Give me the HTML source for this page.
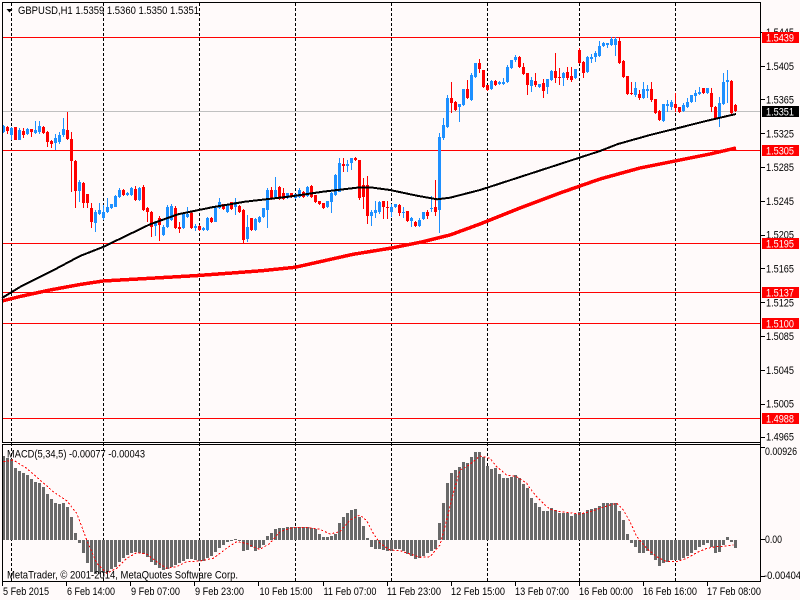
<!DOCTYPE html>
<html><head><meta charset="utf-8"><style>
html,body{margin:0;padding:0;background:#FFFAFA;width:800px;height:600px;overflow:hidden}
svg{display:block}
text{font-family:"Liberation Sans",sans-serif;font-size:11px;fill:#000}
</style></head><body>
<svg id="s" width="800" height="600" xmlns="http://www.w3.org/2000/svg" shape-rendering="crispEdges">
<rect width="800" height="600" fill="#FFFAFA"/>
<g stroke="#000" stroke-width="1" stroke-dasharray="3,2">
<line x1="11.5" y1="3" x2="11.5" y2="581"/>
<line x1="103.5" y1="3" x2="103.5" y2="581"/>
<line x1="199.5" y1="3" x2="199.5" y2="581"/>
<line x1="295.5" y1="3" x2="295.5" y2="581"/>
<line x1="391.5" y1="3" x2="391.5" y2="581"/>
<line x1="487.5" y1="3" x2="487.5" y2="581"/>
<line x1="579.5" y1="3" x2="579.5" y2="581"/>
<line x1="675.5" y1="3" x2="675.5" y2="581"/>
</g>
<g stroke="#FF0000" stroke-width="1">
<line x1="3" y1="37.5" x2="760" y2="37.5"/>
<line x1="3" y1="150.5" x2="760" y2="150.5"/>
<line x1="3" y1="243.5" x2="760" y2="243.5"/>
<line x1="3" y1="292.5" x2="760" y2="292.5"/>
<line x1="3" y1="323.5" x2="760" y2="323.5"/>
<line x1="3" y1="418.5" x2="760" y2="418.5"/>
</g>
<line x1="3" y1="111.5" x2="760" y2="111.5" stroke="#C0C0C0"/>
<g id="cd"></g>
<g id="hg" fill="#696969"></g>
<polyline fill="none" stroke="#000" stroke-width="2" points="2,298 20,287 50,272 80,256 103,247 150,224.3 178,214.3 212,207.3 245,201.7 290,196.5 323,191.7 357,187.7 373,187.7 390,190 417,195.7 437,199.3 450,197.7 480,190 520,177 560,164 600,151 618,144 650,135 677,128.3 706,121 736,114"/>
<polyline fill="none" stroke="#FF0000" stroke-width="3.5" points="2,301 20,296.5 50,290 80,284.5 103,281 150,278.3 195,275.7 228,273.3 262,270.7 295,267.3 353,254.3 390,248.3 423,241.7 450,235 480,224 520,208 560,193 600,179 640,168 680,160 710,154 736,148"/>
<polyline fill="none" stroke="#FF0000" stroke-width="1" stroke-dasharray="2,2" points="3.3,461.7 13.3,460 26.7,468.3 40,480 53.3,491.7 66.7,500.7 76.7,513.3 86.7,540 96.7,563.3 106.7,573.3 116.7,568.3 126.7,558.3 136.7,552.7 146.7,554 156.7,561.7 166.7,568.3 176.7,566.7 186.7,561.7 200,561 213.3,558.3 226.7,548.3 236.7,541.7 246.7,543.3 256.7,548.3 260,549.3 270,543.3 280,531.7 293.3,527.3 306.7,527.3 320,529.3 330,534 340,531.7 350,520 360,515 366.7,520.7 373.3,533.3 380,543.3 390,550 400,550.7 410,554 420,557.3 430,556.7 440,545 446.7,520 453.3,493.3 460,470 466.7,466.7 473.3,461.7 480,456 490,458.3 496.7,466.7 506.7,475 516.7,476.7 526.7,483.3 530,488.3 536.7,496.7 543.3,503.3 550,509.3 560,511.7 570,512.7 580,514 590,511.7 600,508.3 610,505 616.7,503.3 623.3,510 630,521.7 636.7,536.7 646.7,548.3 656.7,556.7 666.7,561.7 676.7,561.7 686.7,558.3 696.7,552.7 706.7,548.3 716.7,546.7 726.7,546 733.3,545"/>
<g fill="#000">
<rect x="2" y="2" width="759" height="1"/>
<rect x="2" y="2" width="1" height="441"/>
<rect x="2" y="442" width="759" height="1"/>
<rect x="2" y="444" width="759" height="1"/>
<rect x="2" y="444" width="1" height="138"/>
<rect x="2" y="581" width="759" height="1"/>
<rect x="760" y="2" width="1" height="580"/>
<rect x="761" y="32" width="4" height="1"/>
<rect x="761" y="66" width="4" height="1"/>
<rect x="761" y="99" width="4" height="1"/>
<rect x="761" y="133" width="4" height="1"/>
<rect x="761" y="167" width="4" height="1"/>
<rect x="761" y="201" width="4" height="1"/>
<rect x="761" y="235" width="4" height="1"/>
<rect x="761" y="268" width="4" height="1"/>
<rect x="761" y="302" width="4" height="1"/>
<rect x="761" y="336" width="4" height="1"/>
<rect x="761" y="370" width="4" height="1"/>
<rect x="761" y="404" width="4" height="1"/>
<rect x="761" y="437" width="4" height="1"/>
<rect x="761" y="447" width="4" height="1"/>
<rect x="761" y="539" width="4" height="1"/>
<rect x="761" y="576" width="4" height="1"/>
<rect x="2" y="582" width="1" height="4"/>
<rect x="66" y="582" width="1" height="4"/>
<rect x="130" y="582" width="1" height="4"/>
<rect x="194" y="582" width="1" height="4"/>
<rect x="258" y="582" width="1" height="4"/>
<rect x="323" y="582" width="1" height="4"/>
<rect x="387" y="582" width="1" height="4"/>
<rect x="451" y="582" width="1" height="4"/>
<rect x="515" y="582" width="1" height="4"/>
<rect x="579" y="582" width="1" height="4"/>
<rect x="643" y="582" width="1" height="4"/>
<rect x="707" y="582" width="1" height="4"/>
</g>
<text x="766" y="36" textLength="28" lengthAdjust="spacingAndGlyphs">1.5445</text>
<text x="766" y="70" textLength="28" lengthAdjust="spacingAndGlyphs">1.5405</text>
<text x="766" y="103.5" textLength="28" lengthAdjust="spacingAndGlyphs">1.5365</text>
<text x="766" y="137.3" textLength="28" lengthAdjust="spacingAndGlyphs">1.5325</text>
<text x="766" y="171" textLength="28" lengthAdjust="spacingAndGlyphs">1.5285</text>
<text x="766" y="205" textLength="28" lengthAdjust="spacingAndGlyphs">1.5245</text>
<text x="766" y="238.7" textLength="28" lengthAdjust="spacingAndGlyphs">1.5205</text>
<text x="766" y="272.5" textLength="28" lengthAdjust="spacingAndGlyphs">1.5165</text>
<text x="766" y="306.3" textLength="28" lengthAdjust="spacingAndGlyphs">1.5125</text>
<text x="766" y="340" textLength="28" lengthAdjust="spacingAndGlyphs">1.5085</text>
<text x="766" y="374" textLength="28" lengthAdjust="spacingAndGlyphs">1.5045</text>
<text x="766" y="407.7" textLength="28" lengthAdjust="spacingAndGlyphs">1.5005</text>
<text x="766" y="440.5" textLength="28" lengthAdjust="spacingAndGlyphs">1.4965</text>
<text x="765" y="455" textLength="32" lengthAdjust="spacingAndGlyphs">0.00926</text>
<text x="765" y="543" textLength="17" lengthAdjust="spacingAndGlyphs">0.00</text>
<text x="764" y="579" textLength="37" lengthAdjust="spacingAndGlyphs">-0.00404</text>
<g fill="#FF0000">
<rect x="762" y="32" width="37" height="11"/>
<rect x="762" y="145" width="37" height="11"/>
<rect x="762" y="238" width="37" height="11"/>
<rect x="762" y="287" width="37" height="11"/>
<rect x="762" y="318" width="37" height="11"/>
<rect x="762" y="413" width="37" height="11"/>
</g>
<rect x="762" y="106" width="37" height="11" fill="#000"/>
<g>
<text x="766" y="41.5" textLength="28" lengthAdjust="spacingAndGlyphs" style="fill:#fff">1.5439</text>
<text x="766" y="154.5" textLength="28" lengthAdjust="spacingAndGlyphs" style="fill:#fff">1.5305</text>
<text x="766" y="247.5" textLength="28" lengthAdjust="spacingAndGlyphs" style="fill:#fff">1.5195</text>
<text x="766" y="296.5" textLength="28" lengthAdjust="spacingAndGlyphs" style="fill:#fff">1.5137</text>
<text x="766" y="327.5" textLength="28" lengthAdjust="spacingAndGlyphs" style="fill:#fff">1.5100</text>
<text x="766" y="422.5" textLength="28" lengthAdjust="spacingAndGlyphs" style="fill:#fff">1.4988</text>
<text x="766" y="115.5" textLength="28" lengthAdjust="spacingAndGlyphs" style="fill:#fff">1.5351</text>
</g>
<polygon points="6.5,9 12.5,9 9.5,12.5" fill="#000" shape-rendering="auto"/>
<text x="18" y="14" textLength="181" lengthAdjust="spacingAndGlyphs">GBPUSD,H1  1.5359 1.5360 1.5350 1.5351</text>
<text x="7" y="457.5" textLength="138" lengthAdjust="spacingAndGlyphs">MACD(5,34,5) -0.00077 -0.00043</text>
<text x="7" y="578.5" textLength="231" lengthAdjust="spacingAndGlyphs">MetaTrader, © 2001-2014, MetaQuotes Software Corp.</text>
<text x="3" y="595" textLength="46" lengthAdjust="spacingAndGlyphs">5 Feb 2015</text>
<text x="67" y="595" textLength="48" lengthAdjust="spacingAndGlyphs">6 Feb 14:00</text>
<text x="131" y="595" textLength="49" lengthAdjust="spacingAndGlyphs">9 Feb 07:00</text>
<text x="195" y="595" textLength="49" lengthAdjust="spacingAndGlyphs">9 Feb 23:00</text>
<text x="259.5" y="595" textLength="53" lengthAdjust="spacingAndGlyphs">10 Feb 15:00</text>
<text x="323.5" y="595" textLength="53" lengthAdjust="spacingAndGlyphs">11 Feb 07:00</text>
<text x="387" y="595" textLength="54" lengthAdjust="spacingAndGlyphs">11 Feb 23:00</text>
<text x="451" y="595" textLength="54" lengthAdjust="spacingAndGlyphs">12 Feb 15:00</text>
<text x="515" y="595" textLength="54" lengthAdjust="spacingAndGlyphs">13 Feb 07:00</text>
<text x="579" y="595" textLength="54" lengthAdjust="spacingAndGlyphs">16 Feb 00:00</text>
<text x="643" y="595" textLength="54" lengthAdjust="spacingAndGlyphs">16 Feb 16:00</text>
<text x="707" y="595" textLength="54" lengthAdjust="spacingAndGlyphs">17 Feb 08:00</text>
</svg>
<script>
(function(){
var NS="http://www.w3.org/2000/svg";
var C=[
['b',125.7,132.3,125,133.3],['r',126.7,131,126,134.3],['b',127.7,135,127,140],['r',126.7,140,126.7,140],['b',130,140,127.7,140],
['r',131,135,128.3,137.7],['b',129,134.3,128,135],['r',129,132.3,129,136.7],['b',130,133.3,121,134.3],['b',125.7,131.7,121,134.3],
['r',126.7,133.3,126,134],['r',132.3,142.3,131,146.7],['r',141,144.3,140,147.7],['b',138.3,143.3,134.3,150],['b',135,141.7,131.7,144.3],
['b',129,135,118.3,136.7],['r',130,139,112.3,140],['r',139,161,131.7,192.3],['r',161,191,160,208.3],['b',181.7,191,180,201.7],
['r',183.3,203.3,182,208.3],['r',194.3,203.3,194,208.3],['r',208.3,222.3,203.3,227.7],['b',212.3,223.3,210,231.7],['b',210,214.3,202.7,215],
['b',211.7,218.3,205,220],['b',206.7,211.7,197.7,213.3],['b',204.3,208.3,204,209],['b',195.7,206.7,195,207],['b',190,196.7,187.7,197.7],
['r',190,195,189,196],['b',193.3,195,192,196],['b',188.3,195,186.7,195.7],['r',189,200,185.7,201],['b',187.7,200,187,201],
['r',186.7,210,185,211],['r',207.7,212.3,206.7,222.3],['r',212.3,226.7,211,236.7],['b',222.3,225.7,221,235.7],['r',217.7,225,216,241],
['b',226.7,235,225,236],['b',206.7,226.7,205,228],['b',205.7,220,204,221],['r',207.7,228.3,206,229],['r',226.7,229,222.3,233.3],
['b',213.3,227.7,212,229],['b',214.3,216.7,206.7,217.7],['r',213.3,227.7,212,229],['b',225.7,228.3,224.3,231],['r',225.7,230,225,231],
['b',227.7,230,227,231],['b',217.7,230,217,231],['r',217.7,222.3,217,223],['b',207.7,221.7,207,222],['b',202.3,208.3,198.3,209],
['r',204.3,209,203.5,210],['b',205,211.7,204,212.5],['r',202.3,209,201.5,210],['b',201.7,206.7,197.7,215],['r',205.7,211.7,205,212.5],
['r',210,240,209,244.3],['b',226.7,239,215,241.7],['r',218.3,230,217.5,231],['b',219,230,218,231],['b',216.7,221.7,216,222.5],
['b',208.3,216.7,207.5,217.5],['b',190,210,188.3,228.3],['r',190,197.7,186.7,200],['b',190,196.7,176.7,198.3],['r',186.7,199,186,200],
['r',193.3,199,188.3,200],['b',193.3,198.3,192.5,199],['r',193.3,196.7,192.5,197.5],['b',194.3,197.7,193.5,198.5],['b',190,196.7,187.7,197.7],
['r',191.7,196.7,191,197.5],['b',186.7,195.7,186,196.5],['r',185.7,196.7,185,197.5],['r',195,201.7,194.5,202.5],['r',201,204.3,200.5,205],
['r',203.3,207.7,202.5,208.5],['b',201,206.7,200.5,207.5],['b',193.3,202.3,192.3,213.3],['b',175,195,174.3,195.7],['b',163.3,191.7,157.7,191.7],
['r',164.3,165.7,157.7,171.7],['b',164.3,165.7,160,172.3],['b',158.3,163.3,157.7,170],['r',158.3,160,157,161],['r',160,198.3,159.5,200],
['r',185,196.7,178.3,209],['r',185,215.7,175.7,224.3],['b',211.7,215.7,210,225.7],['b',210,213.3,201,217.7],['b',201.7,211.7,201,214.3],
['r',201,206.7,200.5,219],['r',206.7,208.3,201,219],['b',206.7,211.7,204.3,216.7],['b',204.3,206.7,203.5,207.5],['r',205,213.3,204.3,215.7],
['b',211.7,213.3,206.7,217.7],['r',211,221,210.5,222.3],['b',217.7,221,216.7,226.7],['r',221.7,225.7,221,226.5],['b',220,225.7,218.3,226.5],
['b',212.3,219,211.5,220],['r',211.7,215.7,210,219],['b',208.3,209,195.7,211.7],['r',206.7,211.7,180,215.7],['b',137.3,210,133,233.3],
['b',125,138.3,118.3,140],['b',98.3,126.7,95,127.5],['r',98.3,103.3,81.7,113.3],['r',101.7,110,101,111],['b',104,106.7,104,121.7],
['b',89.3,105,88.5,106],['r',89.3,98.3,80,99],['b',75,100,72.7,101],['b',63.3,76.7,62.7,78.3],['r',63.3,69.3,59.3,73.3],
['r',70,86.7,69.5,87.5],['r',85,90,84.5,91],['b',80.7,89.3,80,90],['r',80.7,85,80,86],['b',81.7,84,81,85],
['b',81.7,84,78.3,85],['b',66.7,81.7,65,82.5],['b',60,68.3,59.5,69],['b',56.7,60,55,61.7],['r',56.7,67.3,56,68],
['r',66.7,74,63.3,75],['r',73.3,85,72.5,95],['b',80,86,76.7,91.7],['r',80.7,85,72.7,86.7],['b',84,86.7,83.5,87.5],
['r',82.7,90.7,79.3,98.3],['b',79.3,87.3,78.5,94],['b',70.7,80,70,81],['r',70.7,78.3,52.7,83.3],['r',76.7,78.3,68.3,85],
['b',72.7,78.3,72,86],['r',71.7,78.3,67.3,80],['r',76,80,67.3,81.7],['b',69.3,78.3,68.5,79],['r',50,63.3,48.3,64],
['r',61.7,73.3,61,78.3],['b',56.7,71.7,56,72.5],['b',57.3,59.3,54,62.7],['b',53.3,57.3,50.7,61.7],['b',46,56,40.7,57],
['b',42.7,46,41.7,47.3],['b',43.3,45,42.7,48.3],['b',39.3,45,37.3,46],['b',39.3,45,37.3,56],['r',40.7,62.7,38.3,63.5],
['r',60.7,76.7,60,78.3],['r',76,94,75.5,95],['r',92.7,94,81.7,95],['b',88.3,95,81.7,96.7],['r',94,98.3,90,100],
['b',89.3,98.3,81.7,99],['b',89.3,90.7,85,98.3],['r',89.3,100,81.7,101.7],['r',99.3,112.7,99,113.5],['r',110.7,120,110,121],
['b',104,120.7,103.5,121.5],['b',104,106,100,111.7],['b',101.7,107.3,100,110],['r',104,108.3,93.3,111.7],['r',107.3,111.7,107,112.5],
['b',105,110.7,103.3,111.5],['b',101.7,107.3,98.3,108],['b',95,101.7,94.5,102.5],['b',92.7,96,90,101.7],['b',91.7,94,87.3,95],
['r',88.3,93.3,88,94],['b',88.3,93.3,88,94],['r',93.3,106.7,88.3,111.7],['r',106.7,118.3,106,120],['b',102.7,118.3,96.7,127.3],
['b',81.7,104,72.7,105],['b',80,81.7,70,102.7],['r',80.7,112.7,80,113.5],['r',104.6,111.3,103.8,112.2]
];
var H=[78,85,88,115,122,128,135,148,155,160,172,192,208,218,222,218,232,262,308,338,370,400,425,432,432,430,425,418,410,395,385,375,368,365,368,372,382,395,405,415,420,418,410,405,400,392,388,388,390,392,392,385,378,365,355,345,335,332,328,332,362,360,350,362,355,345,
318,308,298,294,294,292,292,292,292,292,290,293,298,312,322,322,318,312,280,260,248,240,238,262,288,324,350,358,358,360,362,362,358,358,362,372,378,388,385,378,370,362,358,278,218,158,128,120,112,95,98,82,65,65,82,108,118,115,132,145,145,140,135,145,162,175,
205,218,232,242,242,235,240,248,248,250,258,252,245,248,240,238,235,228,218,218,218,220,242,270,312,338,352,368,368,362,375,390,408,400,395,390,390,390,385,378,368,360,352,345,338,350,368,365,345,322,335,355];
function R(g,x,y,w,h,f){var r=document.createElementNS(NS,'rect');r.setAttribute('x',x);r.setAttribute('y',y);r.setAttribute('width',w);r.setAttribute('height',h);if(f)r.setAttribute('fill',f);g.appendChild(r);}
var cd=document.getElementById('cd'),hg=document.getElementById('hg');
for(var i=0;i<C.length;i++){
 var c=C[i],x=2+4*i,col=c[0]=='b'?'#1E90FF':'#FF0000';
 var wt=Math.round(c[3]),wb=Math.round(c[4]);
 R(cd,x+1,wt,1,Math.max(1,wb-wt),col);
 var bt=Math.round(c[1]),bb=Math.round(c[2]);
 R(cd,x,bt,3,Math.max(1,bb-bt),col);
}
var Z=540;
for(var j=0;j<H.length;j++){
 var y=Math.round(430+H[j]/3),x2=2+4*j;
 if(y<Z){R(hg,x2,y,3,Z-y);}else if(y>Z){R(hg,x2,Z,3,y-Z);}
}
})();
</script>
</body></html>
